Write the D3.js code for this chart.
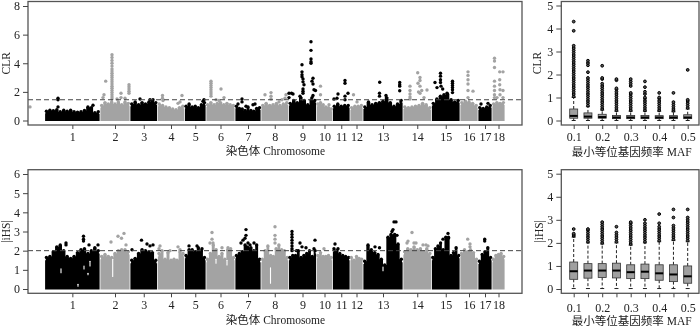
<!DOCTYPE html>
<html><head><meta charset="utf-8">
<script src="https://cdnjs.cloudflare.com/ajax/libs/d3/7.8.5/d3.min.js"></script>
<style>html,body{margin:0;padding:0;background:#fff}svg{display:block;filter:blur(.3px)}
text{font-family:"Liberation Serif","Noto Sans CJK SC",serif;fill:#222}</style></head><body>
<svg id="c" width="700" height="326"></svg>
<script>
const chromosomes=["1","2","3","4","5","6","7","8","9","10","11","12","13","14","15","16","17","18"];
const chromEdges=[16.7,72,102,129.5,156.5,178,207,233,260.5,288.5,304.5,322,335,375,403.5,432,450,464,477];
const xLabel="染色体 Chromosome", mafLabel="最小等位基因频率 MAF";
const clrThreshold=1.45, ihsThreshold=2;
// Upper edge of the dense point cloud, chromosome by chromosome (evenly spaced along each)
const clrEnvelope=[
[.65,.72,.68,.75,.62,.72,.65,.72,.62,.58,.62,.7,.95,.9,.55,.62],
[1.05,1.25,1.15,1.3,1.15,1.3,1.1,1.3,1.2],
[1.15,1.3,1.1,1.25,1.15,1.3,1.35,1.25],
[1.15,1.05,.95,.9,.8,.75,.9,1],
[1,1.15,.95,1,.9,1.1,1.25],
[1.1,1.25,1.1,1.2,1.25,1.1,1.2,1.1,1.05],
[1,.85,.8,.7,.95,.7,.65,.85,.9],
[1.05,1.2,1.05,1.1,1.2,1.05,1.15,1.25],
[1.2,1.4,1.25,1.6,1.4,1.1,1.45,1.4],
[1.15,1.25,1.1,.95,.9,.8],
[1,1.15,1,1.05,1.05],
[.9,1,1,1.05],
[.95,1.3,1.1,1.2,1.25,1.35,1.6,1.25,1,1.15,1.4],
[.95,.9,.95,1,1.05,1.2,1.1,.9],
[1.2,1.5,1.7,1.8,1.85,1.45,1.3,1.4],
[1.25,1.35,1.3,1.2,1.05],
[.9,.85,.95,1.05],
[1.15,1.25,1.2,1.25]];
const ihsEnvelope=[
[1.65,1.7,1.95,2.2,2.3,2,1.7,1.6,1.7,1.9,2.05,2.1,1.85,2,2.15,2],
[1.7,1.8,1.7,1.65,1.85,2,2.05,2.05,1.95],
[1.5,1.6,1.85,2.05,2,1.95,1.9,1.5],
[1.85,2,1.55,1.9,1.5,1.55,1.5,1.95,1.85],
[1.75,2.05,2.05,1.95,2.15,2,1.65],
[1.55,1.85,2.3,2.05,1.7,1.85,1.55,2.05,2.1,1.65],
[1.75,1.85,1.95,2.3,2.15,2.15,2,2.3,1.55],
[1.55,2,2.25,1.75,1.7,2.1,2.3,2.05,2,1.65],
[1.65,1.75,1.75,2,1.65,1.75,1.85,2,1.7,2],
[1.75,1.9,1.7,1.7,1.75,1.65],
[2.1,2,1.85,1.75,1.7,1.65],
[1.65,1.5,1.7,1.6,1.55],
[1.45,2.3,2.05,1.9,1.8,1.55,1.25,2.7,2.8,2.85,2.35,1.55],
[1.95,2.1,2.05,2.2,2.05,2.1,1.95,2.1,1.85],
[1.65,2.1,2.25,2.4,2.05,2.7,2.65,1.75,1.9,2.15,1.75],
[1.85,2.05,1.95,2.05,1.9,1.55],
[1.45,1.8,1.95,2.15,1.65],
[1.55,1.75,1.8,1.85,1.7]];
// Peaks standing clear of the cloud: [position, [values]]
const clrPeaks=[
[2,[.95]],[30,[1.55,1.45,.95]],[65,[1.07]],
[84,[1.5,1.65,1.8,1.95,2.1,2.25,2.4,2.55,2.7,2.85,3,3.15,3.3,3.45,3.6,3.8,4,4.2,4.4,4.6]],
[77.7,[2.75]],[76,[1.8]],[75,[1.6]],[93,[1.9,1.6]],[101,[1.9,2.05,2.2,2.35,2.5]],[89,[1.5]],[97,[1.55]],
[112,[1.5]],[122,[1.45]],[125,[1.45]],
[134.5,[1.75,1.55]],[135,[1.4]],[154,[1.75]],[152,[1.3]],[150,[1.2]],
[176,[1.45]],[175,[1.35]],
[183,[1.7,1.85,2,2.15,2.3,2.45,2.6,2.75]],[193,[2.2]],[196,[1.6]],[188,[1.45]],[191,[1.4]],
[214,[1.5,1.3]],[227,[1.15]],[225,[1.1]],[210,[1.15]],[218,[1]],
[237,[1.8]],[243,[1.95,1.7,1.5]],[257,[1.55]],[258,[1.8]],[254,[1.45]],[251,[1.3]],
[274,[3.9,3.4,3.2,3.05]],[275,[2.9,2.7,2.2,2.05,1.9]],[276,[2.5]],[272,[1.7]],
[283,[5.5,4.9,4.3,4.1,4]],[285,[2.95,2.55]],[284,[2.75,1.6]],[286,[2.15]],[287.5,[2.1]],[285,[1.75]],
[261,[1.9,1.6]],[263.5,[1.9]],[265,[1.85]],
[292.5,[2.4,1.8]],[301,[1.1]],
[306,[1.5]],[309,[1.55]],[310,[1.85]],[317,[2.8,2.6,1.7,1.45]],[320,[1.9]],
[325.5,[1.8]],[329,[1.3]],
[351.7,[2.67]],[351.5,[1.9,1.7]],[371.7,[2.65,2.5,2.4,2.08]],[358,[1.75]],
[382,[1.5,1.65,1.85,2.1,2.4]],[389.7,[3.34]],[392,[3,2.8,2.4,1.9]],[390,[2.6]],[390.5,[2]],[393.7,[2.1]],[399,[2.13]],[396,[1.6]],
[407,[2.65]],[412.5,[3.3,3.1,2.85,2.65]],[409,[2.3]],[413,[2.4]],[414.7,[2.2]],[424.5,[2.75,2.6,2.45,2.3,2.15,1.95]],[419,[1.9]],
[440,[3.4,3.15,2.85,2.55,2.1,1.6]],[445,[2.05]],
[453,[1.15]],[460,[1.2]],
[466.5,[4.35,4.15,3.7,2.75,2.4,2.1,1.8,1.6]],[471.7,[3.4,2.85,2.5]],[475,[3.4,2.1,1.6]],[472,[2.15,1.8]],[469,[1.6]]];
const ihsPeaks=[
[55.5,[2.75,2.6,2.5]],[38,[2.4,2.3]],[61,[2.3]],[70,[2.3]],
[83,[2.45]],[90,[2.75]],[93.5,[2.65]],[96,[2.9]],[98,[2.3]],
[113.5,[2.55]],[119,[2.35]],[125,[2.3]],[122,[2.25]],[104,[2.05]],
[132,[2.25]],[131,[2.1]],[142,[2]],[150,[2.2]],[152,[2.05]],
[161,[2.25]],[169,[2.25]],[174,[2.1]],
[184,[2.95,2.6]],[182,[2.4]],[185,[2.4]],[194,[2.15]],[200,[2.15]],
[218,[3.1,2.8]],[217,[2.65]],[215,[2.55]],[220,[2.4]],[222,[2.3]],[226,[2.4]],[213,[2.4]],[219,[2.2]],
[247,[3.25,2.8,2.6,2.4]],
[264,[3,2.85,2.7,2.55,2.4,2.25,2.1,2]],[272,[2.4]],[274,[2.2]],[278,[2.15]],[287,[2.55]],[286,[2.1]],[268.5,[2]],
[296,[2.1]],[307,[2.35]],[310,[2.1]],
[366,[3.5]],[368,[3.5]],[365,[3.1]],[364,[3]],[363,[2.85]],[369,[2.8]],[347,[2.2]],[351.5,[2.15]],
[384,[2.95]],[380,[2.5]],[386,[2.4]],[388,[2.4]],[395,[2.3]],[398,[2.3]],[400,[2.25]],[379,[2.4]],
[415,[2.6]],[420,[2.9]],[420.5,[2.7]],
[439.7,[2.6]],[442,[2.35,2.2]],
[456.7,[2.6,2.5]]];
// Narrow thin patches inside the iHS cloud: [position, low, high]
const ihsGaps=[[84.7,.65,1.55],[242.5,.3,1.1],[33,.85,1.05],[50,.15,.25],[56,1.05,1.2],[62,1.2,1.45],[60,.75,.82],[188,1.35,1.55],[199,1.25,1.5],[355,.95,1.15]];
const mafBins=[.1,.15,.2,.25,.3,.35,.4,.45,.5];
const mafTicks=[.1,.2,.3,.4,.5];
const clrLow=[0,0,0,0,0,0,0,0,0];
const clrQ1=[.1,.1,.1,.08,.08,.08,.08,.08,.08];
const clrMedian=[.2,.17,.15,.13,.13,.13,.13,.13,.13];
const clrQ3=[.5,.33,.27,.22,.22,.22,.21,.21,.25];
const clrHigh=[1,.6,.45,.4,.4,.4,.4,.38,.5];
const clrOutliers=[
[1.05,1.15,1.25,1.35,1.45,1.55,1.65,1.75,1.85,1.95,2.05,2.15,2.25,2.35,2.45,2.55,2.65,2.75,2.85,2.95,3.05,3.15,3.25,3.9,4.3],
[.65,.75,.85,.95,1.05,1.15,1.25,1.35,1.45,1.55,1.65,1.75,1.85,2.1,2.4,2.5,2.6],
[.5,.6,.7,.8,.9,1,1.1,1.2,1.3,1.4,1.5,1.6,1.8,1.85,2.38],
[.45,.55,.65,.75,.85,.95,1.05,1.15,1.25,1.35,1.4,1.75,1.8],
[.45,.55,.65,.75,.85,.95,1.05,1.15,1.2,1.5,1.6,1.7,1.8],
[.45,.55,.65,.75,.85,.95,1,1.15,1.25,1.45,1.7],
[.45,.55,.65,.75,.85,.95,1,1.2],
[.42,.5,.6,.7,.8,1.2],
[.55,.65,.75,.85,.9,2.2]];
const ihsLow=[.02,.02,.02,.02,.02,.02,.02,.02,.02];
const ihsQ1=[.42,.47,.5,.48,.45,.45,.38,.32,.25];
const ihsMedian=[.77,.8,.8,.8,.73,.75,.68,.63,.55];
const ihsQ3=[1.17,1.1,1.1,1.12,1.05,1.08,1.05,1.05,1];
const ihsHigh=[2.25,2,1.95,2,1.9,2,2.05,2.1,2.05];
const ihsOutliers=[
[2.3,2.35,2.4,2.6],
[2.05,2.15,2.25,2.35,2.45,2.55,2.6],
[2,2.1,2.2,2.3,2.4,2.5,2.6,2.7,2.8,2.9],
[2.05,2.15,2.25,2.35,2.45,2.7],
[1.95,2.05,2.15,2.25,2.35,2.45,2.55,2.65,2.75,2.85,2.9],
[2.05,2.15,2.25,2.35,2.45,2.55,2.65,2.75,2.85,3],
[2.1,2.2,2.3,2.4,2.5,2.6,2.7,2.85,3.25],
[2.15,2.25,2.35,2.45,2.55,2.65,2.75,3.1,3.45],
[2.1,2.2,2.3,2.4,2.5,2.6,2.7,2.8,2.9,3,3.1,3.45]];

const BLACK="#000", GREY="#a3a3a3", FRAME="#555";
const svg=d3.select("#c");
function frame(x0,x1,y0,y1){
  svg.append("rect").attr("x",x0).attr("y",y0).attr("width",x1-x0).attr("height",y1-y0)
    .attr("fill","none").attr("stroke",FRAME).attr("stroke-width",1.3);
}
function styleAxis(g,size){
  g.selectAll("path").remove();
  g.selectAll("line").attr("stroke","#444").attr("stroke-width",1);
  g.selectAll("text").attr("font-size",size).attr("fill","#222").style("font-family",'"Liberation Serif",serif');
}
function yAxis(scale,ticks,left,title,titleX){
  const cy=(scale.range()[0]+scale.range()[1])/2;
  const g=svg.append("g").attr("transform",`translate(${left},0)`)
    .call(d3.axisLeft(scale).tickValues(ticks).tickSize(5).tickPadding(3).tickFormat(d3.format("d")));
  styleAxis(g,12);
  svg.append("text").attr("transform",`translate(${titleX},${cy}) rotate(-90)`)
    .attr("text-anchor","middle").attr("dominant-baseline","central").attr("font-size",11.5).text(title);
}
function manhattan(top,bottom,yScale,ticks,title,envelope,peaks,threshold,gaps,labelY,titleY){
  const x=d3.scaleLinear().domain([0,494]).range([28,522]);
  const base=yScale.invert(yScale(0)+.6);
  const colorOf=i=>i%2?GREY:BLACK;
  const area=d3.area().x(d=>x(d[0])).y0(yScale(base)).y1(d=>yScale(d[1])).curve(d3.curveStep);
  envelope.forEach((vals,i)=>{
    const s=chromEdges[i],e=chromEdges[i+1],w=e-s;
    const pts=vals.map((v,j)=>[s+(j+.5)/vals.length*w,v]);
    const full=[[s+.4,vals[0]-.15],...pts,[e-.4,vals[vals.length-1]-.15]];
    svg.append("path").datum(full).attr("d",area).attr("fill",colorOf(i));
    svg.append("g").selectAll("circle").data(pts).join("circle")
      .attr("cx",d=>x(d[0])).attr("cy",d=>yScale(d[1])).attr("r",1.7).attr("fill",colorOf(i));
  });
  gaps.forEach(g=>{
    svg.append("line").attr("x1",x(g[0])).attr("x2",x(g[0])).attr("y1",yScale(g[1])).attr("y2",yScale(g[2]))
      .attr("stroke","#fff").attr("stroke-width",1.1).attr("stroke-linecap","round");
  });
  const flat=peaks.flatMap(p=>p[1].map(v=>[p[0],v]));
  svg.append("g").selectAll("circle").data(flat).join("circle")
    .attr("cx",d=>x(d[0])).attr("cy",d=>yScale(d[1])).attr("r",1.7)
    .attr("fill",d=>colorOf(d3.bisectRight(chromEdges,d[0])-1));
  svg.append("line").attr("x1",x(0)).attr("x2",x(494)).attr("y1",yScale(threshold)).attr("y2",yScale(threshold))
    .attr("stroke","#444").attr("stroke-width",1).attr("stroke-dasharray","5 3");
  frame(28,522,top,bottom);
  yAxis(yScale,ticks,28,title,6);
  const mids=chromosomes.map((c,i)=>(chromEdges[i]+chromEdges[i+1])/2);
  const g=svg.append("g").attr("transform",`translate(0,${bottom})`)
    .call(d3.axisBottom(x).tickValues(mids).tickSize(4).tickPadding(3).tickFormat((d,i)=>chromosomes[i]));
  styleAxis(g,12);
  g.selectAll("text").attr("y",null).attr("dy",null).attr("dominant-baseline","central").attr("transform",`translate(0,${labelY-bottom})`);
  svg.append("text").attr("x",275.5).attr("y",titleY).attr("text-anchor","middle").attr("dominant-baseline","central").attr("font-size",11.5).text(xLabel);
}
function boxes(top,bottom,yScale,title,titleX,low,q1,med,q3,high,outliers,labelY,titleY){
  const x=d3.scaleLinear().domain([.1,.5]).range([573.7,687.7]);
  const halfW=4;
  mafBins.forEach((b,i)=>{
    const cx=x(b), g=svg.append("g");
    g.append("line").attr("x1",cx).attr("x2",cx).attr("y1",yScale(q3[i])).attr("y2",yScale(high[i]))
      .attr("stroke","#222").attr("stroke-width",1).attr("stroke-dasharray","3 2");
    g.append("line").attr("x1",cx).attr("x2",cx).attr("y1",yScale(q1[i])).attr("y2",yScale(low[i]))
      .attr("stroke","#222").attr("stroke-width",1).attr("stroke-dasharray","3 2");
    [low[i],high[i]].forEach(v=>g.append("line").attr("x1",cx-2).attr("x2",cx+2).attr("y1",yScale(v)).attr("y2",yScale(v)).attr("stroke","#222").attr("stroke-width",1));
    g.append("rect").attr("x",cx-halfW).attr("width",2*halfW).attr("y",yScale(q3[i])).attr("height",yScale(q1[i])-yScale(q3[i]))
      .attr("fill","#a0a0a0").attr("stroke","#333").attr("stroke-width",.8);
    g.append("line").attr("x1",cx-halfW).attr("x2",cx+halfW).attr("y1",yScale(med[i])).attr("y2",yScale(med[i])).attr("stroke","#000").attr("stroke-width",2);
    g.selectAll("circle").data(outliers[i]).join("circle").attr("cx",cx).attr("cy",d=>yScale(d)).attr("r",1.4)
      .attr("fill","#555").attr("stroke","#000").attr("stroke-width",1);
  });
  frame(561.3,699,top,bottom);
  yAxis(yScale,[0,1,2,3,4,5],561.3,title,titleX);
  const g=svg.append("g").attr("transform",`translate(0,${bottom})`)
    .call(d3.axisBottom(x).tickValues(mafBins).tickSize(4).tickPadding(3).tickFormat(d=>mafTicks.some(t=>Math.abs(t-d)<1e-6)?d3.format(".1f")(d):""));
  styleAxis(g,12);
  g.selectAll("text").attr("y",null).attr("dy",null).attr("dominant-baseline","central").attr("transform",`translate(0,${labelY-bottom})`);
  svg.append("text").attr("x",631.7).attr("y",titleY).attr("text-anchor","middle").attr("dominant-baseline","central").attr("font-size",11.5).text(mafLabel);
}
manhattan(1.5,125,d3.scaleLinear().domain([0,8]).range([120.5,6]),[0,2,4,6,8],"CLR",clrEnvelope,clrPeaks,clrThreshold,[],136.7,151);
manhattan(169.7,293.3,d3.scaleLinear().domain([0,6]).range([289,174]),[0,1,2,3,4,5,6],"|iHS|",ihsEnvelope,ihsPeaks,ihsThreshold,ihsGaps,305,320);
boxes(1.5,125,d3.scaleLinear().domain([0,5]).range([120.5,5.5]),"CLR",537,clrLow,clrQ1,clrMedian,clrQ3,clrHigh,clrOutliers,137,151.7);
boxes(169.7,293.3,d3.scaleLinear().domain([0,5]).range([289,173.7]),"|iHS|",539,ihsLow,ihsQ1,ihsMedian,ihsQ3,ihsHigh,ihsOutliers,307.5,320.7);
</script></body></html>
